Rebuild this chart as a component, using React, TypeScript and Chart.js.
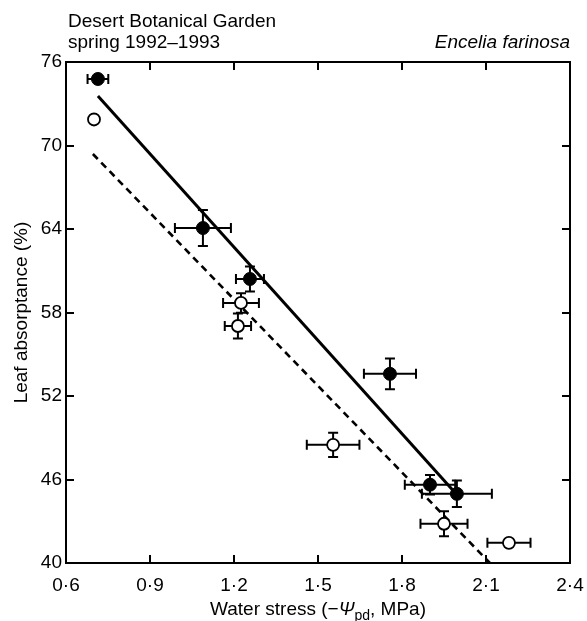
import React, { useEffect, useRef } from "react";
import { Chart, registerables } from "chart.js";
Chart.register(...registerables);

// Filled circles (spring 1992)
const filledX = [0.714, 1.089, 1.257, 1.757, 1.9, 1.996];
const filledY = [74.78, 64.07, 60.41, 53.59, 45.63, 44.97];
const filledXErr = [0.037, 0.1, 0.05, 0.093, 0.09, 0.125];
const filledYErr = [0, 1.3, 0.9, 1.1, 0.7, 0.95];
// Open circles (spring 1993)
const openX = [0.7, 1.225, 1.214, 1.554, 1.95, 2.182];
const openY = [71.87, 58.69, 57.03, 48.49, 42.82, 41.45];
const openXErr = [0, 0.064, 0.047, 0.094, 0.084, 0.077];
const openYErr = [0, 0.7, 0.9, 0.87, 0.9, 0];
// Regression lines (end points)
const solidLineX = [0.714, 1.993];
const solidLineY = [73.56, 44.97];
const dashedLineX = [0.696, 2.114];
const dashedLineY = [69.39, 40];
// Ticks
const xTicks = [0.6, 0.9, 1.2, 1.5, 1.8, 2.1, 2.4];
const yTicks = [40, 46, 52, 58, 64, 70, 76];

const FONT = "'Liberation Sans', Arial, Helvetica, sans-serif";
const FS = 19;

const errorBarPlugin = {
  id: "errorBars",
  beforeDatasetsDraw(chart: any) {
    const ctx = chart.ctx;
    const xs = chart.scales.x;
    const ys = chart.scales.y;
    const cap = 5;
    ctx.save();
    ctx.strokeStyle = "#000";
    ctx.lineWidth = 2;
    const draw = (X: number[], Y: number[], XE: number[], YE: number[]) => {
      for (let i = 0; i < X.length; i++) {
        const px = xs.getPixelForValue(X[i]);
        const py = ys.getPixelForValue(Y[i]);
        if (XE[i] > 0) {
          const l = xs.getPixelForValue(X[i] - XE[i]);
          const r = xs.getPixelForValue(X[i] + XE[i]);
          ctx.beginPath();
          ctx.moveTo(l, py);
          ctx.lineTo(r, py);
          ctx.moveTo(l, py - cap);
          ctx.lineTo(l, py + cap);
          ctx.moveTo(r, py - cap);
          ctx.lineTo(r, py + cap);
          ctx.stroke();
        }
        if (YE[i] > 0) {
          const t = ys.getPixelForValue(Y[i] + YE[i]);
          const b = ys.getPixelForValue(Y[i] - YE[i]);
          ctx.beginPath();
          ctx.moveTo(px, t);
          ctx.lineTo(px, b);
          ctx.moveTo(px - cap, t);
          ctx.lineTo(px + cap, t);
          ctx.moveTo(px - cap, b);
          ctx.lineTo(px + cap, b);
          ctx.stroke();
        }
      }
    };
    draw(filledX, filledY, filledXErr, filledYErr);
    draw(openX, openY, openXErr, openYErr);
    ctx.restore();
  },
};

const framePlugin = {
  id: "frame",
  afterDraw(chart: any) {
    const ctx = chart.ctx;
    const { left, right, top, bottom } = chart.chartArea;
    const xs = chart.scales.x;
    const ys = chart.scales.y;
    const tl = 8;
    ctx.save();
    ctx.strokeStyle = "#000";
    ctx.lineWidth = 2;
    ctx.strokeRect(left, top, right - left, bottom - top);
    ctx.beginPath();
    xTicks.forEach((v) => {
      const px = Math.round(xs.getPixelForValue(v));
      ctx.moveTo(px, bottom);
      ctx.lineTo(px, bottom - tl);
      ctx.moveTo(px, top);
      ctx.lineTo(px, top + tl);
    });
    yTicks.forEach((v) => {
      const py = Math.round(ys.getPixelForValue(v));
      ctx.moveTo(left, py);
      ctx.lineTo(left + tl, py);
      ctx.moveTo(right, py);
      ctx.lineTo(right - tl, py);
    });
    ctx.stroke();

    // Titles
    ctx.fillStyle = "#000";
    ctx.textBaseline = "alphabetic";
    ctx.font = `${FS}px ${FONT}`;
    ctx.textAlign = "left";
    ctx.fillText("Desert Botanical Garden", left + 2, 27);
    ctx.fillText("spring 1992\u20131993", left + 2, 48);
    ctx.textAlign = "right";
    ctx.font = `italic ${FS}px ${FONT}`;
    ctx.fillText("Encelia farinosa", right, 48);

    // X axis title with subscript
    const y0 = 615;
    const parts: [string, string, number][] = [
      ["Water stress (\u2212", `${FS}px ${FONT}`, 0],
      ["\u03A8", `italic ${FS}px ${FONT}`, 0],
      ["pd", `14px ${FONT}`, 5],
      [", MPa)", `${FS}px ${FONT}`, 0],
    ];
    let total = 0;
    parts.forEach(([t, f]) => {
      ctx.font = f;
      total += ctx.measureText(t).width;
    });
    let x = (left + right) / 2 - total / 2;
    ctx.textAlign = "left";
    parts.forEach(([t, f, dy]) => {
      ctx.font = f;
      ctx.fillText(t, x, y0 + dy);
      x += ctx.measureText(t).width;
    });
    ctx.restore();
  },
};

export default function App() {
  const ref = useRef<HTMLCanvasElement>(null);
  useEffect(() => {
    if (!ref.current) return;
    const chart = new Chart(ref.current, {
      type: "scatter",
      data: {
        datasets: [
          {
            label: "filled",
            data: filledX.map((x, i) => ({ x, y: filledY[i] })),
            pointRadius: 6.5,
            pointBackgroundColor: "#000",
            pointBorderColor: "#000",
            pointBorderWidth: 1,
            showLine: false,
          },
          {
            label: "open",
            data: openX.map((x, i) => ({ x, y: openY[i] })),
            pointRadius: 6,
            pointBackgroundColor: "#fff",
            pointBorderColor: "#000",
            pointBorderWidth: 1.8,
            showLine: false,
          },
          {
            label: "solid fit",
            data: solidLineX.map((x, i) => ({ x, y: solidLineY[i] })),
            showLine: true,
            pointRadius: 0,
            borderColor: "#000",
            borderWidth: 3,
          },
          {
            label: "dashed fit",
            data: dashedLineX.map((x, i) => ({ x, y: dashedLineY[i] })),
            showLine: true,
            pointRadius: 0,
            borderColor: "#000",
            borderWidth: 2.6,
            borderDash: [7, 5],
          },
        ],
      },
      options: {
        animation: false,
        responsive: false,
        layout: { padding: { left: 0, top: 62, right: 17, bottom: 0 } },
        plugins: { legend: { display: false }, tooltip: { enabled: false } },
        scales: {
          x: {
            type: "linear",
            min: 0.6,
            max: 2.4,
            afterBuildTicks: (s: any) => {
              s.ticks = xTicks.map((v) => ({ value: v }));
            },
            afterFit: (s: any) => {
              s.height = 58;
              s.paddingLeft = 0;
              s.paddingRight = 0;
            },
            grid: { display: false, drawTicks: false },
            border: { display: false },
            ticks: {
              padding: 11,
              color: "#000",
              font: { family: FONT, size: FS },
              callback: (v: any) => Number(v).toFixed(1).replace(".", "\u00B7"),
              maxRotation: 0,
            },
          },
          y: {
            type: "linear",
            min: 40,
            max: 76,
            afterBuildTicks: (s: any) => {
              s.ticks = yTicks.map((v) => ({ value: v }));
            },
            afterFit: (s: any) => {
              s.width = 66;
              s.paddingTop = 0;
              s.paddingBottom = 0;
            },
            grid: { display: false, drawTicks: false },
            border: { display: false },
            title: {
              display: true,
              text: "Leaf absorptance (%)",
              color: "#000",
              font: { family: FONT, size: FS },
              padding: { top: 10, bottom: 0 },
            },
            ticks: {
              padding: 4,
              color: "#000",
              font: { family: FONT, size: FS },
              callback: (v: any) => String(v),
            },
          },
        },
      },
      plugins: [errorBarPlugin, framePlugin],
    });
    return () => chart.destroy();
  }, []);
  return (
    <canvas
      ref={ref}
      width={587}
      height={621}
      style={{ position: "absolute", left: 0, top: 0, width: 587, height: 621, background: "#fff" }}
    />
  );
}
